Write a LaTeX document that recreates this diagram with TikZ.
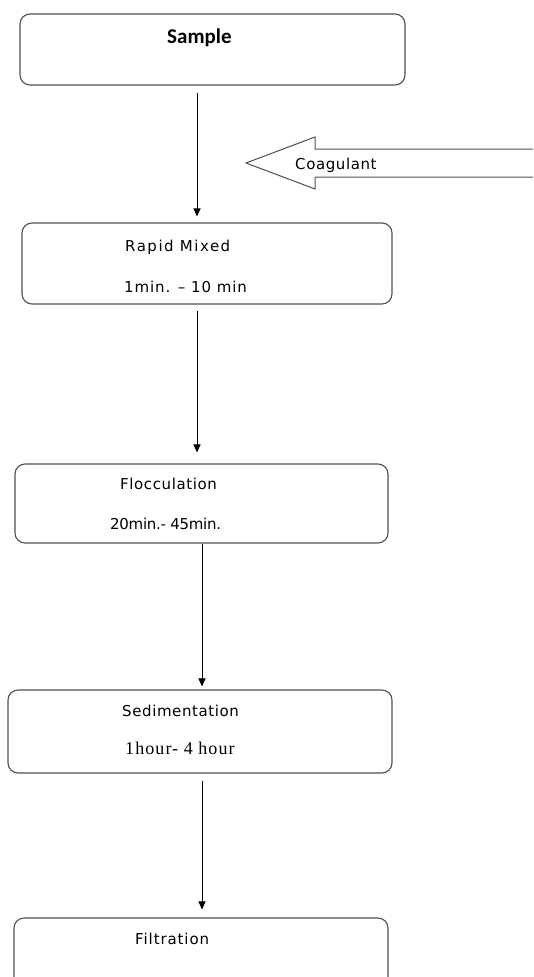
\documentclass[tikz,border=0pt]{standalone}
\usepackage{fontspec}
\newfontfamily\dvs{DejaVu Sans}
\newfontfamily\carl{Carlito}
\newfontfamily\lserif{Liberation Serif}
\usetikzlibrary{arrows.meta}
\definecolor{boxgray}{HTML}{505050}
\begin{document}
\begin{tikzpicture}[x=1pt,y=-1pt,
  procbox/.style={draw=boxgray, line width=1.1pt, rounded corners=10pt, rectangle, inner sep=0pt, fill=none},
  conn/.style={draw=black, line width=1pt, -{Triangle[length=8pt,width=7pt]}},
  lbl/.style={anchor=base west, inner sep=0pt, font=\dvs\fontsize{15}{18}\selectfont},
  hollow/.style={draw=boxgray, line width=1pt, line join=miter}]
\useasboundingbox (0,0) rectangle (533,977);
\clip (0,0) rectangle (533,977);
% boxes
\node[procbox, minimum width=385pt, minimum height=71pt] (sample) at (212.5,49.5) {};
\node[procbox, minimum width=370pt, minimum height=81pt] (rapid) at (207,263.5) {};
\node[procbox, minimum width=373pt, minimum height=79pt] (floc) at (201.5,503.5) {};
\node[procbox, minimum width=384pt, minimum height=83pt] (sedi) at (200,731.5) {};
\node[procbox, minimum width=374pt, minimum height=80pt] (filt) at (201,958) {};
% texts
\node[anchor=base west, inner sep=0pt, font=\carl\bfseries\fontsize{21}{24}\selectfont] (tsample) at (167,43) {Sample};
\node[lbl] (tcoag) at (295,169) {\addfontfeature{LetterSpace=4}Coagulant};
\node[lbl] (trapid) at (125,251) {\addfontfeature{LetterSpace=10}Rapid Mixed};
\node[lbl] (trapidt) at (124,292) {\addfontfeature{LetterSpace=6}1min. – 10 min};
\node[lbl] (tfloc) at (120,489) {\addfontfeature{LetterSpace=4}Flocculation};
\node[lbl] (tfloct) at (110,529) {\addfontfeature{LetterSpace=-2}20min.- 45min.};
\node[lbl] (tsedi) at (122,716) {\addfontfeature{LetterSpace=4}Sedimentation};
\node[anchor=base west, inner sep=0pt, font=\lserif\fontsize{18}{21}\selectfont] (tsedit) at (125,754) {\addfontfeature{LetterSpace=6}1hour- 4 hour};
\node[lbl] (tfilt) at (135,944) {\addfontfeature{LetterSpace=6}Filtration};
% connector x positions
\coordinate (xa) at (197,0);
\coordinate (xb) at (202,0);
\draw[conn, shorten <=7pt, shorten >=6pt] (xa |- sample.south) -- (xa |- rapid.north);
\draw[conn, shorten <=6pt, shorten >=11pt] (xa |- rapid.south) -- (xa |- floc.north);
\draw[conn, shorten >=3pt] (xb |- floc.south) -- (xb |- sedi.north);
\draw[conn, shorten <=7pt, shorten >=8pt] (xb |- sedi.south) -- (xb |- filt.north);
% coagulant block arrow
\draw[hollow] (246,163) -- (315,137) -- (315,149) -- (545,149) -- (545,177) -- (315,177) -- (315,189) -- cycle;
\end{tikzpicture}
\end{document}
